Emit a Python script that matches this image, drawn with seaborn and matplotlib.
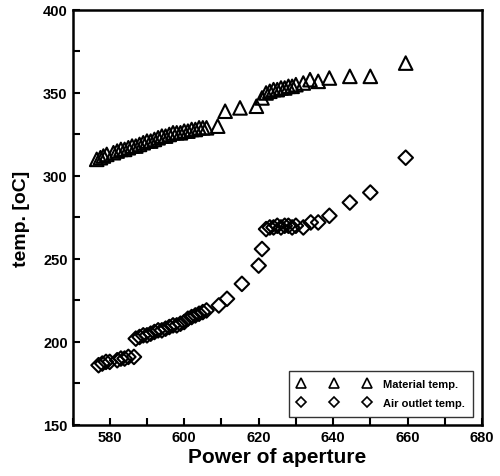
import numpy as np
import pandas as pd
import matplotlib
matplotlib.use("Agg")
import matplotlib.pyplot as plt
import seaborn as sns
from matplotlib.ticker import MultipleLocator
from matplotlib.lines import Line2D

# Material temp. (triangles)
mat_x = [576.5, 577.5, 578.3, 579.2, 581.0, 582.0, 583.0, 584.0, 585.0, 586.0,
         587.0, 588.0, 589.0, 590.0, 591.0, 592.0, 593.0, 594.0, 595.0, 596.0,
         597.0, 598.0, 599.0, 600.0, 601.0, 602.0, 603.0, 604.0, 605.0, 606.0,
         609.0, 611.0, 615.0, 619.4, 620.9, 622.0, 623.0, 624.0, 625.0, 626.0,
         627.0, 628.0, 629.0, 630.0, 632.0, 633.8, 636.0, 639.0, 644.5, 650.0, 659.5]
mat_y = [310, 311, 312, 313, 314, 315, 316, 316, 317, 318,
         318, 319, 320, 321, 321, 322, 323, 324, 324, 325,
         326, 326, 326, 327, 327, 328, 328, 329, 329, 329,
         330, 339, 341, 342, 347, 350, 351, 352, 352, 353,
         353, 354, 354, 355, 356, 358, 357, 359, 360, 360, 368]

# Air outlet temp. (diamonds)
air_x = [577.0, 578.0, 579.0, 580.0, 582.0, 583.0, 584.0, 585.0, 586.5, 587.0,
         588.0, 589.0, 590.0, 591.0, 592.0, 593.0, 594.0, 595.0, 596.0, 597.0,
         598.0, 599.0, 600.0, 601.0, 602.0, 603.0, 604.0, 605.0, 606.0, 609.3,
         611.5, 615.5, 620.0, 620.9, 622.0, 623.0, 624.0, 625.0, 626.0, 627.0,
         628.0, 629.0, 630.0, 632.0, 634.0, 636.0, 639.0, 644.5, 650.0, 659.5]
air_y = [186, 187, 188, 188, 189, 190, 190, 191, 191, 202,
         203, 204, 204, 205, 206, 207, 207, 208, 209, 210,
         210, 211, 212, 214, 215, 216, 217, 218, 219, 222,
         226, 235, 246, 256, 268, 269, 269, 270, 269, 270,
         270, 269, 270, 269, 272, 272, 276, 284, 290, 311]

labels = ["Material temp.", "Air outlet temp."]

mat_df = pd.DataFrame({"power": mat_x, "temp": mat_y})
air_df = pd.DataFrame({"power": air_x, "temp": air_y})

sns.set_style("ticks")
plt.rcParams["font.family"] = ["Liberation Sans", "DejaVu Sans"]
plt.rcParams["font.weight"] = "bold"
for k in ["text.color", "axes.labelcolor", "xtick.color", "ytick.color", "axes.edgecolor"]:
    plt.rcParams[k] = "black"

fig = plt.figure(figsize=(5.0, 4.77), dpi=100)
ax = fig.add_axes([0.145, 0.107, 0.819, 0.870])

sns.scatterplot(data=mat_df, x="power", y="temp", marker="^", s=95,
                facecolor="none", edgecolor="black", linewidth=1.5, ax=ax)
sns.scatterplot(data=air_df, x="power", y="temp", marker="D", s=55,
                facecolor="none", edgecolor="black", linewidth=1.5, ax=ax)
for coll in ax.collections:
    coll.set_facecolor("none")
    coll.set_edgecolor("black")

ax.set_xlim(570, 680)
ax.set_ylim(150, 400)
ax.xaxis.set_major_locator(MultipleLocator(20))
ax.xaxis.set_minor_locator(MultipleLocator(10))
ax.yaxis.set_major_locator(MultipleLocator(50))
ax.yaxis.set_minor_locator(MultipleLocator(25))
ax.tick_params(which="both", direction="in", top=False, right=False,
               width=1.5, labelsize=10.5, colors="black")
ax.tick_params(which="both", length=5)
for lab in ax.get_xticklabels() + ax.get_yticklabels():
    lab.set_fontweight("bold")
for sp in ax.spines.values():
    sp.set_visible(True)
    sp.set_linewidth(1.8)
    sp.set_color("black")

ax.set_xlabel("Power of aperture", fontsize=15, fontweight="bold", labelpad=2)
ax.set_ylabel("temp. [oC]", fontsize=14, fontweight="bold", labelpad=9)

h1 = Line2D([], [], marker="^", linestyle="none", markerfacecolor="none",
            markeredgecolor="black", markersize=7, markeredgewidth=1.2)
h2 = Line2D([], [], marker="D", linestyle="none", markerfacecolor="none",
            markeredgecolor="black", markersize=5.5, markeredgewidth=1.2)
leg = ax.legend([h1, h2], labels, loc="lower right", bbox_to_anchor=(0.978, 0.02),
                numpoints=3, handlelength=6.6, handletextpad=1.1,
                prop={"size": 8, "weight": "bold"}, frameon=True, fancybox=False,
                borderpad=0.75, labelspacing=0.85, borderaxespad=0.0)
leg.get_frame().set_edgecolor("black")
leg.get_frame().set_linewidth(1.0)

fig.savefig("out.png", dpi=100)
